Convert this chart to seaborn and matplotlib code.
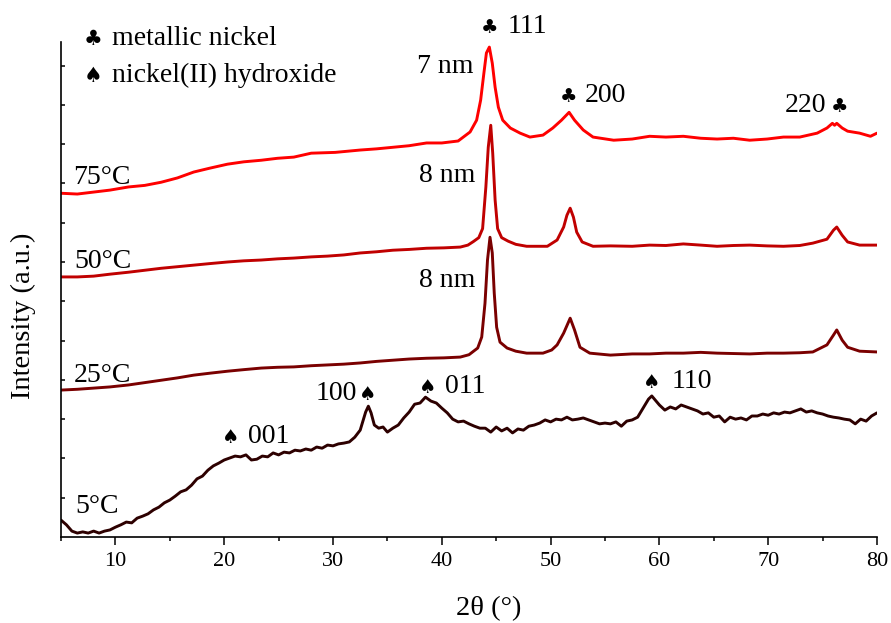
import numpy as np
import pandas as pd
import matplotlib
matplotlib.use("Agg")
import matplotlib.pyplot as plt
import seaborn as sns

# ---------------- data ----------------
x75 = [5, 6.5, 8, 9.5, 11.2, 12.7, 14.2, 15.7, 17.2, 18.7, 20.3, 21.8, 23.4, 24.9, 26.4,
       28.0, 30.2, 32.5, 34.0, 35.5, 37.0, 38.6, 40.0, 41.5, 42.6, 43.2, 43.57, 43.87,
       44.1, 44.37, 44.64, 44.9, 45.2, 45.6, 46.3, 47.2, 48.1, 49.3, 50.2, 51.0, 51.7,
       52.2, 53.0, 53.9, 55.8, 57.5, 59.1, 60.6, 62.2, 63.8, 65.3, 66.8, 68.3, 69.9,
       71.4, 72.9, 74.5, 75.4, 75.9, 76.1, 76.3, 76.8, 77.3, 78.4, 79.4, 80]
y75 = [8.75, 8.73, 8.78, 8.83, 8.91, 8.95, 9.03, 9.14, 9.29, 9.39, 9.49, 9.55, 9.59, 9.64,
       9.67, 9.77, 9.79, 9.85, 9.88, 9.92, 9.96, 10.03, 10.03, 10.08, 10.31, 10.61, 11.12,
       11.81, 12.32, 12.47, 12.06, 11.45, 10.94, 10.61, 10.41, 10.28, 10.18, 10.23, 10.41,
       10.61, 10.81, 10.61, 10.36, 10.18, 10.10, 10.13, 10.20, 10.18, 10.20, 10.15, 10.13,
       10.15, 10.10, 10.13, 10.18, 10.18, 10.28, 10.41, 10.53, 10.48, 10.53, 10.41, 10.33,
       10.28, 10.20, 10.28]

x50 = [5, 6.5, 8, 9.5, 11.2, 12.7, 14.2, 15.7, 17.2, 18.7, 20.3, 21.8, 23.4, 24.9, 26.4,
       28.0, 29.5, 31.0, 32.5, 34.0, 35.5, 37.0, 38.6, 40.2, 41.7, 42.4, 42.9, 43.4, 43.75,
       44.05, 44.27, 44.5, 44.68, 44.9, 45.13, 45.5, 46.1, 46.8, 47.8, 49.7, 50.6, 51.2,
       51.5, 51.8, 52.1, 52.4, 52.9, 53.9, 55.5, 57.5, 59.1, 60.6, 62.2, 63.8, 65.3, 66.8,
       68.3, 69.9, 71.4, 72.9, 74.1, 75.4, 76.0, 76.3, 76.8, 77.3, 78.4, 80]
y50 = [6.62, 6.62, 6.64, 6.69, 6.74, 6.79, 6.84, 6.88, 6.92, 6.96, 7.00, 7.03, 7.05, 7.08,
       7.10, 7.13, 7.15, 7.18, 7.23, 7.26, 7.30, 7.32, 7.35, 7.36, 7.38, 7.43, 7.52, 7.62,
       7.85, 8.91, 9.92, 10.48, 9.77, 8.58, 7.85, 7.62, 7.53, 7.45, 7.40, 7.40, 7.56, 7.89,
       8.19, 8.37, 8.14, 7.76, 7.51, 7.40, 7.41, 7.40, 7.43, 7.42, 7.46, 7.43, 7.40, 7.42,
       7.43, 7.41, 7.40, 7.42, 7.48, 7.58, 7.81, 7.89, 7.68, 7.51, 7.43, 7.43]

x25 = [5, 6.5, 8, 9.5, 11.2, 12.7, 14.2, 15.7, 17.2, 18.7, 20.3, 21.8, 23.4, 24.9, 26.4,
       28.0, 29.5, 31.0, 32.5, 34.0, 35.5, 37.0, 38.6, 40.2, 41.7, 42.5, 43.3, 43.67, 43.97,
       44.2, 44.43, 44.64, 44.82, 45.04, 45.35, 46.0, 46.8, 47.8, 49.3, 50.1, 50.6, 51.2,
       51.8, 52.2, 52.7, 53.6, 55.5, 57.5, 59.1, 60.6, 62.2, 63.8, 65.3, 66.8, 68.3, 69.9,
       71.4, 72.9, 74.1, 75.4, 76.0, 76.3, 76.8, 77.3, 78.4, 80]
y25 = [3.74, 3.76, 3.79, 3.82, 3.87, 3.93, 3.99, 4.05, 4.12, 4.17, 4.22, 4.26, 4.30, 4.32,
       4.33, 4.36, 4.38, 4.40, 4.43, 4.47, 4.50, 4.53, 4.55, 4.56, 4.58, 4.64, 4.81, 5.09,
       5.95, 7.05, 7.63, 7.23, 6.21, 5.34, 4.96, 4.81, 4.73, 4.68, 4.68, 4.76, 4.89, 5.19,
       5.57, 5.27, 4.83, 4.68, 4.63, 4.66, 4.66, 4.68, 4.68, 4.70, 4.68, 4.67, 4.66, 4.68,
       4.68, 4.69, 4.71, 4.89, 5.14, 5.27, 5.01, 4.83, 4.73, 4.71]

x5 = [5.0, 5.5, 6.0, 6.5, 7.0, 7.5, 8.0, 8.5, 9.0, 9.5, 10.0, 10.5, 11.0, 11.5, 12.0, 12.5,
      13.0, 13.5, 14.0, 14.5, 15.0, 15.5, 16.0, 16.5, 17.0, 17.5, 18.0, 18.5, 19.0, 19.5,
      20.0, 20.5, 21.0, 21.5, 22.0, 22.5, 23.0, 23.5, 24.0, 24.5, 25.0, 25.5, 26.0, 26.5,
      27.0, 27.5, 28.0, 28.5, 29.0, 29.5, 30.0, 30.5, 31.0, 31.5, 32.0, 32.5, 33.0, 33.25,
      33.5, 33.8, 34.2, 34.6, 35.0, 35.5, 36.0, 36.5, 37.0, 37.5, 38.0, 38.5, 39.0, 39.5,
      40.0, 40.5, 41.0, 41.5, 42.0, 42.5, 43.0, 43.5, 44.0, 44.5, 45.0, 45.5, 46.0, 46.5,
      47.0, 47.5, 48.0, 48.5, 49.0, 49.5, 50.0, 50.5, 51.0, 51.5, 52.0, 52.5, 53.0, 53.5,
      54.0, 54.5, 55.0, 55.5, 56.0, 56.5, 57.0, 57.5, 58.0, 58.5, 59.0, 59.3, 59.6, 60.0,
      60.5, 61.0, 61.5, 62.0, 62.5, 63.0, 63.5, 64.0, 64.5, 65.0, 65.5, 66.0, 66.5, 67.0,
      67.5, 68.0, 68.5, 69.0, 69.5, 70.0, 70.5, 71.0, 71.5, 72.0, 72.5, 73.0, 73.5, 74.0,
      74.5, 75.0, 75.5, 76.0, 76.5, 77.0, 77.5, 78.0, 78.5, 79.0, 79.5, 80.0]
y5 = [0.43, 0.31, 0.15, 0.10, 0.13, 0.10, 0.15, 0.10, 0.15, 0.18, 0.25, 0.31, 0.38, 0.36,
      0.48, 0.53, 0.59, 0.69, 0.76, 0.87, 0.94, 1.04, 1.15, 1.20, 1.32, 1.48, 1.55, 1.70,
      1.81, 1.88, 1.96, 2.01, 2.06, 2.04, 2.09, 1.96, 1.98, 2.06, 2.04, 2.14, 2.09, 2.16,
      2.14, 2.21, 2.19, 2.24, 2.21, 2.29, 2.26, 2.34, 2.32, 2.37, 2.39, 2.42, 2.54, 2.72,
      3.18, 3.33, 3.16, 2.85, 2.77, 2.80, 2.67, 2.77, 2.85, 3.03, 3.18, 3.38, 3.41, 3.56,
      3.46, 3.41, 3.28, 3.16, 3.00, 2.93, 2.95, 2.88, 2.82, 2.77, 2.77, 2.67, 2.80, 2.70,
      2.77, 2.65, 2.75, 2.72, 2.82, 2.85, 2.90, 2.98, 2.93, 3.00, 2.98, 3.05, 2.98, 3.00,
      3.03, 2.98, 2.93, 2.88, 2.90, 2.88, 2.93, 2.82, 2.95, 2.98, 3.05, 3.28, 3.51, 3.59,
      3.49, 3.36, 3.23, 3.31, 3.26, 3.36, 3.31, 3.26, 3.21, 3.13, 3.16, 3.05, 3.08, 2.93,
      3.05, 3.00, 3.03, 2.98, 3.08, 3.08, 3.13, 3.10, 3.16, 3.13, 3.18, 3.16, 3.21, 3.26,
      3.18, 3.21, 3.16, 3.13, 3.08, 3.05, 3.03, 3.00, 2.98, 2.88, 3.00, 2.95, 3.08, 3.16]

samples = ["5°C", "25°C", "50°C", "75°C"]
colors = ["#2d0000", "#7a0000", "#c00000", "#ff0000"]

df = pd.concat([
    pd.DataFrame({"two_theta": x, "intensity": y, "sample": s})
    for x, y, s in zip([x5, x25, x50, x75], [y5, y25, y50, y75], samples)
], ignore_index=True)

# ---------------- figure ----------------
sns.set_style("ticks")
plt.rcParams["font.family"] = ["Liberation Serif", "DejaVu Serif"]
plt.rcParams["text.color"] = "black"
plt.rcParams["axes.labelcolor"] = "black"
plt.rcParams["xtick.color"] = "black"
plt.rcParams["ytick.color"] = "black"
plt.rcParams["axes.edgecolor"] = "black"

fig = plt.figure(figsize=(8.91, 6.23), dpi=100)
ax = fig.add_axes([61 / 891, 86 / 623, 816 / 891, 495 / 623])

sns.lineplot(data=df, x="two_theta", y="intensity", hue="sample",
             palette=dict(zip(samples, colors)), estimator=None, sort=True,
             linewidth=2.1, legend=False, ax=ax)

ax.set_xlim(5, 80)
ax.set_ylim(0, 12.6)
ax.set_xticks(range(10, 81, 10))
ax.set_xticks(range(5, 80, 10), minor=True)
ax.set_yticks(np.arange(1, 13))
ax.set_yticklabels([])
ax.tick_params(axis="x", which="major", direction="out", length=6, width=1.1,
               labelsize=16, pad=5, colors="black")
ax.tick_params(axis="x", which="minor", direction="out", length=3, width=1.1,
               colors="black")
ax.tick_params(axis="y", which="major", direction="in", length=3, width=1.1,
               left=True, labelleft=False, colors="black")
for side in ["top", "right"]:
    ax.spines[side].set_visible(False)
for side in ["left", "bottom"]:
    ax.spines[side].set_linewidth(1.2)
    ax.spines[side].set_color("black")

ax.set_xlabel("2θ (°)", fontsize=20.5, color="black")
ax.xaxis.set_label_coords(0.524, -0.12)
ax.set_ylabel("Intensity (a.u.)", fontsize=20.5, color="black")
ax.yaxis.set_label_coords(-0.031, 0.446)

TXT = 20
SYM = 14
sym_font = ["DejaVu Sans"]
CLUB, SPADE = "\u2663", "\u2660"

def label(x, y, s, ha="left"):
    ax.text(x, y, s, fontsize=TXT, ha=ha, va="baseline", color="black",
            clip_on=False)

def sym(x, y, s, size=SYM):
    ax.text(x, y, s, fontsize=size, ha="center", va="baseline", color="black",
            family=sym_font, clip_on=False)

# legend
sym(7.94, 12.52, CLUB, 15)
label(9.69, 12.52, "metallic nickel")
sym(7.94, 11.58, SPADE, 15)
label(9.69, 11.58, "nickel(II) hydroxide")

# sample labels
label(6.10, 8.98, "75°C")
label(6.19, 6.84, "50°C")
label(6.19, 3.94, "25°C")
label(6.29, 0.61, "5°C")

# crystallite sizes
label(42.87, 11.81, "7 nm", ha="right")
label(43.05, 9.03, "8 nm", ha="right")
label(43.05, 6.36, "8 nm", ha="right")

# nickel reflections
sym(44.43, 12.82, CLUB)
label(46.08, 12.82, "111")
sym(51.69, 11.07, CLUB)
label(53.16, 11.07, "200")
label(71.54, 10.81, "220")
sym(76.60, 10.81, CLUB)

# hydroxide reflections
sym(20.63, 2.39, SPADE)
label(22.19, 2.39, "001")
label(28.44, 3.49, "100")
sym(33.22, 3.49, SPADE)
sym(38.73, 3.66, SPADE)
label(40.29, 3.66, "011")
sym(59.32, 3.79, SPADE)
label(61.16, 3.79, "110")

fig.savefig("out.png", dpi=100)
